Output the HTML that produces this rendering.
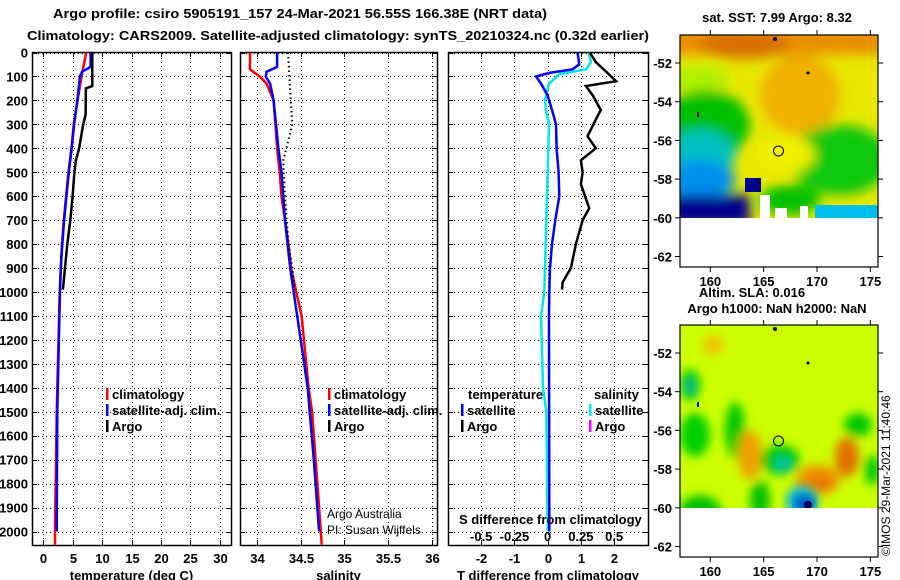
<!DOCTYPE html>
<html><head><meta charset="utf-8"><style>
html,body{margin:0;padding:0;background:#fff;}
svg{display:block;font-family:"Liberation Sans",sans-serif;}
.b{font-weight:bold;font-size:13px;}
</style></head><body>
<svg id="c" width="900" height="580" viewBox="0 0 900 580">
<defs>
<filter id="bl1" x="-20%" y="-20%" width="140%" height="140%"><feGaussianBlur stdDeviation="6"/></filter>
<filter id="bl2" x="-20%" y="-20%" width="140%" height="140%"><feGaussianBlur stdDeviation="5"/></filter>
<clipPath id="cm1"><rect x="680" y="35" width="198" height="183"/></clipPath>
<clipPath id="cm2"><rect x="680" y="325" width="198" height="183"/></clipPath>
</defs>
<text class="b" x="53" y="18" textLength="494" lengthAdjust="spacingAndGlyphs">Argo profile: csiro 5905191_157 24-Mar-2021 56.55S 166.38E (NRT data)</text>
<text class="b" x="27" y="40" textLength="622" lengthAdjust="spacingAndGlyphs">Climatology: CARS2009. Satellite-adjusted climatology: synTS_20210324.nc (0.32d earlier)</text>

<g>
<g clip-path="url(#cm1)">
<rect x="680" y="35" width="198" height="183" fill="#e8e800"/>
<g filter="url(#bl1)">
<rect x="670" y="25" width="220" height="30" fill="#e89000"/>
<ellipse cx="745" cy="45" rx="45" ry="14" fill="#d87000"/>
<ellipse cx="800" cy="95" rx="40" ry="40" fill="#f0b000"/>
<ellipse cx="700" cy="80" rx="30" ry="14" fill="#b0f000"/>
<ellipse cx="705" cy="125" rx="45" ry="35" fill="#00c000"/>
<ellipse cx="700" cy="155" rx="35" ry="25" fill="#00c0c0"/>
<ellipse cx="700" cy="180" rx="35" ry="20" fill="#0090f0"/>
<rect x="670" y="195" width="80" height="30" fill="#000090"/>
<ellipse cx="840" cy="160" rx="50" ry="35" fill="#10c810"/>
<ellipse cx="790" cy="200" rx="30" ry="15" fill="#00c000"/>
<ellipse cx="785" cy="155" rx="30" ry="18" fill="#f0f000"/>
</g>
<rect x="745" y="178" width="16" height="14" fill="#000090"/>
<rect x="815" y="205" width="63" height="13" fill="#00c0f0"/>
<rect x="760" y="195" width="10" height="23" fill="#fff"/>
<rect x="775" y="208" width="12" height="10" fill="#fff"/>
<rect x="800" y="206" width="8" height="12" fill="#fff"/>
</g>
<rect x="680" y="218" width="198" height="49" fill="#fff"/>
<circle cx="778.5" cy="151" r="5" fill="none" stroke="#000" stroke-width="1"/>
<circle cx="775" cy="39" r="2" fill="#000"/>
<circle cx="808" cy="73" r="1.5" fill="#000"/>
<rect x="697" y="112" width="2" height="5" fill="#000"/>
</g>
<g>
<g clip-path="url(#cm2)">
<rect x="680" y="325" width="198" height="183" fill="#ccff00"/>
<g filter="url(#bl2)">
<ellipse cx="690" cy="385" rx="10" ry="16" fill="#00c800"/>
<ellipse cx="690" cy="387" rx="4" ry="8" fill="#00b0a0"/>
<ellipse cx="695" cy="435" rx="15" ry="22" fill="#00d000"/>
<ellipse cx="735" cy="430" rx="10" ry="28" fill="#00c800"/>
<ellipse cx="713" cy="345" rx="10" ry="10" fill="#f0c000"/>
<ellipse cx="750" cy="455" rx="12" ry="25" fill="#f0a000"/>
<ellipse cx="780" cy="460" rx="20" ry="15" fill="#00c800"/>
<ellipse cx="783" cy="464" rx="7" ry="6" fill="#00c0c0"/>
<ellipse cx="818" cy="480" rx="22" ry="15" fill="#f09000"/>
<ellipse cx="822" cy="483" rx="8" ry="7" fill="#e07000"/>
<ellipse cx="847" cy="457" rx="12" ry="20" fill="#e07000"/>
<ellipse cx="858" cy="425" rx="14" ry="12" fill="#00c800"/>
<ellipse cx="872" cy="470" rx="8" ry="15" fill="#00c800"/>
<ellipse cx="700" cy="515" rx="22" ry="20" fill="#00c000"/>
<ellipse cx="760" cy="500" rx="10" ry="20" fill="#00c000"/>
<ellipse cx="795" cy="528" rx="14" ry="10" fill="#f0a000"/>
<ellipse cx="845" cy="535" rx="30" ry="14" fill="#00c000"/>
</g>
<ellipse cx="802" cy="502" rx="16" ry="16" fill="#00b0e0" filter="url(#bl2)"/>
<ellipse cx="805" cy="504" rx="9" ry="8" fill="#0040c0" filter="url(#bl2)"/>
<ellipse cx="808" cy="505" rx="4" ry="4" fill="#000060"/>
<ellipse cx="838" cy="540" rx="8" ry="6" fill="#00c0c0" filter="url(#bl2)"/>
</g>
<rect x="680" y="508" width="198" height="49" fill="#fff"/>
<circle cx="778.5" cy="441" r="5" fill="none" stroke="#000" stroke-width="1"/>
<circle cx="775" cy="329" r="2" fill="#000"/>
<circle cx="808" cy="363" r="1.5" fill="#000"/>
<rect x="697" y="402" width="2" height="5" fill="#000"/>
</g>
<text class="b" x="777" y="22" text-anchor="middle">sat. SST: 7.99 Argo: 8.32</text>
<text class="b" x="752" y="297" text-anchor="middle">Altim. SLA: 0.016</text>
<text class="b" x="777" y="313" text-anchor="middle">Argo h1000: NaN h2000: NaN</text>
<text x="890" y="556" font-size="12" transform="rotate(-90 890 556)">©IMOS 29-Mar-2021 11:40:46</text>
<g id="g"></g>
</svg>
<script>
const depthTicks=[0,100,200,300,400,500,600,700,800,900,1000,1100,1200,1300,1400,1500,1600,1700,1800,1900,2000];
const tempTicks=[0,5,10,15,20,25,30];
const salTicks=[34,34.5,35,35.5,36];
const tdiffTicks=[-2,-1,0,1,2];
const sdiffTicks=[-0.5,-0.25,0,0.25,0.5];
const sdiffLabels=["-0.5","-0.25","0","0.25","0.5"];
const climDepth=[0,100,200,300,400,500,600,700,800,900,1000,1100,1500,2000,2055];
const climTemp=[7.3,6.5,5.85,5.2,4.8,4.3,3.9,3.5,3.2,3.0,2.8,2.7,2.3,2.0,2.0];
const satDepth=[0,60,80,100,200,300,400,500,600,700,800,900,1000,1100,1500,2000];
const satTemp=[8.05,8.05,6.6,6.25,5.8,5.25,4.85,4.35,3.95,3.55,3.25,3.0,2.85,2.75,2.4,2.3];
const argoDepth=[0,140,150,260,300,400,450,500,600,700,800,900,990];
const argoTemp=[8.35,8.35,7.25,7.2,6.8,6.1,5.55,5.3,5.0,4.6,4.1,3.7,3.35];
const climSalDepth=[0,70,100,130,200,300,400,500,600,700,800,900,1000,1100,1400,1500,1700,1900,2000,2055];
const climSal=[33.92,33.92,34.03,34.11,34.19,34.21,34.23,34.26,34.28,34.32,34.36,34.39,34.45,34.51,34.59,34.63,34.67,34.71,34.73,34.74];
const satSalDepth=[0,60,80,100,130,200,400,500,700,900,1000,1100,1400,1700,2000];
const satSal=[34.23,34.23,34.11,34.10,34.15,34.19,34.245,34.28,34.32,34.38,34.42,34.46,34.58,34.65,34.71];
const argoSalDepth=[0,200,300,350,450,600,700,800,900,990];
const argoSal=[34.355,34.385,34.405,34.37,34.30,34.32,34.34,34.36,34.405,34.43];
const tdDepth=[0,50,70,85,100,130,180,250,300,400,500,600,700,800,900,1000,1100,2000];
const tdSat=[0.9,0.95,0.75,0.05,-0.35,-0.2,0,0.15,0.25,0.27,0.33,0.35,0.23,0.13,0.07,0.05,0.04,0.05];
const sdDepth=[0,40,70,90,130,200,250,300,500,700,900,1000,1100,1300,1400,1500,2000];
const sdSat=[0.31,0.325,0.29,0.09,0.01,-0.02,-0.01,0.01,0,-0.01,-0.02,-0.025,-0.05,-0.04,-0.035,-0.01,0];
const tdArgoDepth=[0,40,80,120,140,180,240,280,350,400,450,500,550,650,700,800,900,960,990];
const tdArgo=[1.27,1.45,1.76,2.06,1.15,1.36,1.6,1.45,1.2,1.45,1.0,1.05,1.0,1.25,1.05,0.85,0.7,0.45,0.43];
const mapLat=[-52,-54,-56,-58,-60,-62];
const mapLon=[160,165,170,175];

const NS="http://www.w3.org/2000/svg";
const G=document.getElementById('g');
function mk(t,a,txt,parent){const e=document.createElementNS(NS,t);for(const k in a)e.setAttribute(k,a[k]);if(txt!==undefined&&txt!==null)e.textContent=txt;(parent||G).appendChild(e);return e;}
function hdots(x0,x1,Y,parent){for(let x=x0+2;x<x1-1;x+=4)mk('rect',{x:x,y:Y,width:1,height:1,fill:'#000'},null,parent);}
function vdots(X,y0,y1,parent){for(let yy=y0+2;yy<y1-1;yy+=4)mk('rect',{x:X,y:yy,width:1,height:1,fill:'#000'},null,parent);}
function tick(x,y,w,h){return mk('rect',{x:x,y:y,width:w,height:h,fill:'#000'});}
const y=d=>52.5+d*0.2395;
const yTop=52,yBot=545;
const panels=[
 {x0:32,x1:231,d0:-1.9,d1:31.9,ticks:tempTicks,title:"temperature (deg C)",name:"temperature"},
 {x0:240,x1:437,d0:33.805,d1:36.06,ticks:salTicks,title:"salinity",name:"salinity"},
 {x0:448,x1:648,d0:-3.0,d1:3.02,ticks:tdiffTicks,title:"T difference from climatology",name:"difference"}];
panels.forEach(p=>{p.sx=v=>p.x0+(v-p.d0)/(p.d1-p.d0)*(p.x1-p.x0);});
panels.forEach((p,i)=>{
  let e;
  depthTicks.forEach(d=>{
    const Y=Math.round(y(d));
    const g=mk('g',{});
    
    
    hdots(p.x0,p.x1,Y,g);
    tick(p.x0,Y,5,1);
    tick(p.x1-5,Y,5,1);
  });
  p.ticks.forEach(t=>{
    const X=Math.round(p.sx(t));
    const g=mk('g',{});
    
    
    vdots(X,yTop,yBot,g);
    tick(X,yTop,1,5);
    tick(X,yBot-5,1,5);
    e=mk('text',{x:X+0.5,y:563,'text-anchor':'middle',class:'b'},String(t));
    
    
  });
  e=mk('rect',{x:p.x0+0.5,y:yTop+0.5,width:p.x1-p.x0,height:yBot-yTop,fill:'none',stroke:'#000','stroke-width':1.5});
  
  
  e=mk('text',{x:(p.x0+p.x1)/2,y:580,'text-anchor':'middle',class:'b'},p.title);
  
  
});
depthTicks.forEach(d=>{const e=mk('text',{x:28,y:y(d)+5,'text-anchor':'end',class:'b'},String(d));
  
  });
function line(p,vals,depths,col,name,dash,scale){
  const pts=vals.map((v,i)=>p.sx(v*(scale||1)).toFixed(1)+','+y(depths[i]).toFixed(1)).join(' ');
  const e=mk('polyline',{points:pts,fill:'none',stroke:col,'stroke-width':dash?2:2.5,'stroke-dasharray':dash||'none'});
  
  
}
const P1=panels[0],P2=panels[1],P3=panels[2];
line(P1,climTemp,climDepth,'#f00','clim-temperature-line');
line(P1,satTemp,satDepth,'#00f','sat-temperature-line');
line(P1,argoTemp,argoDepth,'#000','argo-temperature-line');
line(P2,climSal,climSalDepth,'#f00','clim-salinity-line');
line(P2,satSal,satSalDepth,'#00f','sat-salinity-line');
line(P2,argoSal,argoSalDepth,'#000','argo-salinity-line','1.5 3');
line(P3,sdSat,sdDepth,'#00e8e8','sat-salinity-diff-line',null,4);
line(P3,tdSat,tdDepth,'#00f','sat-temperature-diff-line');
line(P3,tdArgo,tdArgoDepth,'#000','argo-diff-line');
sdiffTicks.forEach((t,i)=>{const e=mk('text',{x:P3.sx(t*4),y:541,'text-anchor':'middle',class:'b'},sdiffLabels[i]);
  
  });
let e0=mk('text',{x:459,y:524,class:'b'},'S difference from climatology');


function leg(x,yy,col,txt,name){
  let r=mk('rect',{x:x,y:yy-11,width:2.5,height:12,fill:col});
  
  
  r=mk('text',{x:x+6,y:yy,class:'b'},txt);
  
  
}
leg(106,399,'#f00','climatology','legend-climatology');
leg(106,415,'#00f','satellite-adj. clim.','legend-satellite-adj');
leg(106,431,'#000','Argo','legend-argo');
leg(328,399,'#f00','climatology','legend-sal-climatology');
leg(328,415,'#00f','satellite-adj. clim.','legend-sal-satellite-adj');
leg(328,431,'#000','Argo','legend-sal-argo');
e0=mk('text',{x:468,y:399,class:'b'},'temperature');


e0=mk('text',{x:594,y:399,class:'b'},'salinity');


leg(461,415,'#00f','satellite','legend-t-satellite');
leg(461,431,'#000','Argo','legend-t-argo');
leg(589,415,'#00e8e8','satellite','legend-s-satellite');
leg(589,431,'#ff00ff','Argo','legend-s-argo');
e0=mk('text',{x:327,y:518,'font-size':12},'Argo Australia');


e0=mk('text',{x:327,y:534,'font-size':12},'PI: Susan Wijffels');


[[35,0],[325,290]].forEach(([t0,off])=>{
  const ly=lat=>63+off+(-52-lat)*19.35, lx=lon=>710.3+(lon-160)*10.67;
  let r=mk('rect',{x:680,y:t0,width:198,height:232,fill:'none',stroke:'#000','stroke-width':1.2});
  
  
  mapLat.forEach(l=>{tick(675,ly(l)-0.5,5,1);tick(878,ly(l)-0.5,5,1);
    const t=mk('text',{x:672,y:ly(l)+5,'text-anchor':'end',class:'b'},String(l));
    
    });
  mapLon.forEach(l=>{tick(lx(l)-0.5,t0-5,1,5);tick(lx(l)-0.5,t0+232,1,5);
    const t=mk('text',{x:lx(l),y:t0+251,'text-anchor':'middle',class:'b'},String(l));
    
    });
});
</script>
</body></html>
